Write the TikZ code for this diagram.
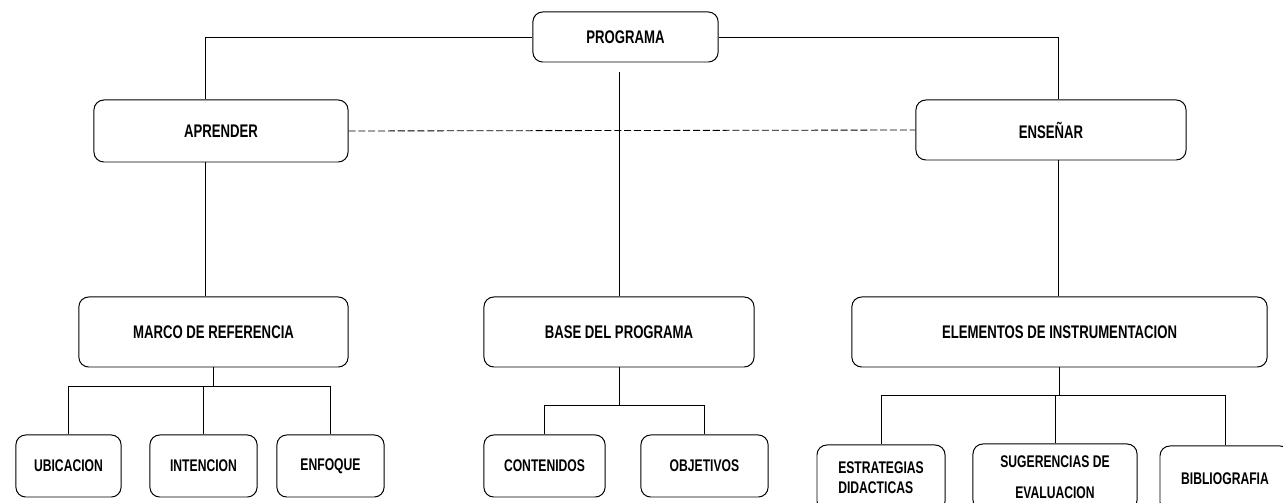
\documentclass[tikz,border=0pt]{standalone}
\usepackage{fontspec}
\newfontfamily\chartfont{Liberation Sans}[FakeStretch=0.72]
\usetikzlibrary{positioning}

\begin{document}
\begin{tikzpicture}[
    x=0.025cm, y=-0.025cm,
    box/.style={
        draw,
        rounded corners=7pt,
        line width=0.7pt,
        inner sep=0pt,
        align=center,
        font=\chartfont\bfseries\fontsize{13}{15}\selectfont
    },
    leaf/.style={
        box,
        minimum height=1.55cm,
        font=\chartfont\bfseries\fontsize{12}{14}\selectfont
    },
    branch/.style={
        line width=0.7pt
    },
    link/.style={
        line width=0.6pt,
        dash pattern=on 5pt off 2pt
    }
]
\useasboundingbox (0,0) rectangle (1283,503);

% Top
\node[box, minimum width=4.63cm, minimum height=1.25cm] (prog) at (625.5, 37) {PROGRAMA};

% Second row
\node[box, minimum width=6.35cm, minimum height=1.55cm] (apr) at (221, 131) {APRENDER};
\node[box, minimum width=6.75cm, minimum height=1.5cm] (ens) at (1051, 130) {ENSEÑAR};

% Third row
\node[box, minimum width=6.73cm, minimum height=1.75cm] (marco) at (213.5, 332) {MARCO DE REFERENCIA};
\node[box, minimum width=6.75cm, minimum height=1.75cm] (base) at (619, 332) {BASE DEL PROGRAMA};
\node[box, minimum width=10.38cm, minimum height=1.75cm] (elem) at (1059.5, 332) {ELEMENTOS DE INSTRUMENTACION};

% Bottom row
\node[leaf, minimum width=2.63cm] (ubic) at (68.5, 466) {UBICACION};
\node[leaf, minimum width=2.68cm] (inte) at (203.5, 466) {INTENCION};
\node[leaf, minimum width=2.68cm] (enfo) at (330.5, 466) {ENFOQUE};

\node[leaf, minimum width=3.03cm] (cont) at (544.5, 466) {CONTENIDOS};
\node[leaf, minimum width=3.18cm] (obje) at (704.5, 466) {OBJETIVOS};

\node[leaf, minimum width=3.2cm, minimum height=1.65cm, align=left] (estr) at (881, 478) {ESTRATEGIAS\\DIDACTICAS};
\node[leaf, minimum width=4.1cm, minimum height=1.65cm] (suge) at (1055, 477) {SUGERENCIAS DE\\[8pt]EVALUACION};
\node[leaf, minimum width=3.25cm, minimum height=1.65cm] (bibl) at (1225, 479) {BIBLIOGRAFIA};

% Programa to aprender / enseñar
\draw[branch] (prog.west) -| ([xshift=-0.4cm]apr.north);
\draw[branch] (prog.east) -| ([xshift=0.18cm]ens.north);
\coordinate (progfoot) at ([yshift=-0.25cm]prog.south);
\draw[branch] (progfoot -| base.north) -- (base.north);
\draw[link] (apr.east) -- (ens.west);

% Down to third row
\draw[branch] ([xshift=-0.4cm]apr.south) -- ([xshift=-0.4cm]apr.south |- marco.north);
\draw[branch] ([xshift=0.18cm]ens.south) -- ([xshift=0.18cm]ens.south |- elem.north);

% Branches to bottom row
\foreach \c in {ubic, inte, enfo} {
    \draw[branch] (marco.south) -- ++(0, 19) -| (\c.north);
}
\foreach \c in {cont, obje} {
    \draw[branch] (base.south) -- ++(0, 38) -| (\c.north);
}
\foreach \c in {estr, suge, bibl} {
    \draw[branch] (elem.south) -- ++(0, 28) -| (\c.north);
}

\end{tikzpicture}
\end{document}
